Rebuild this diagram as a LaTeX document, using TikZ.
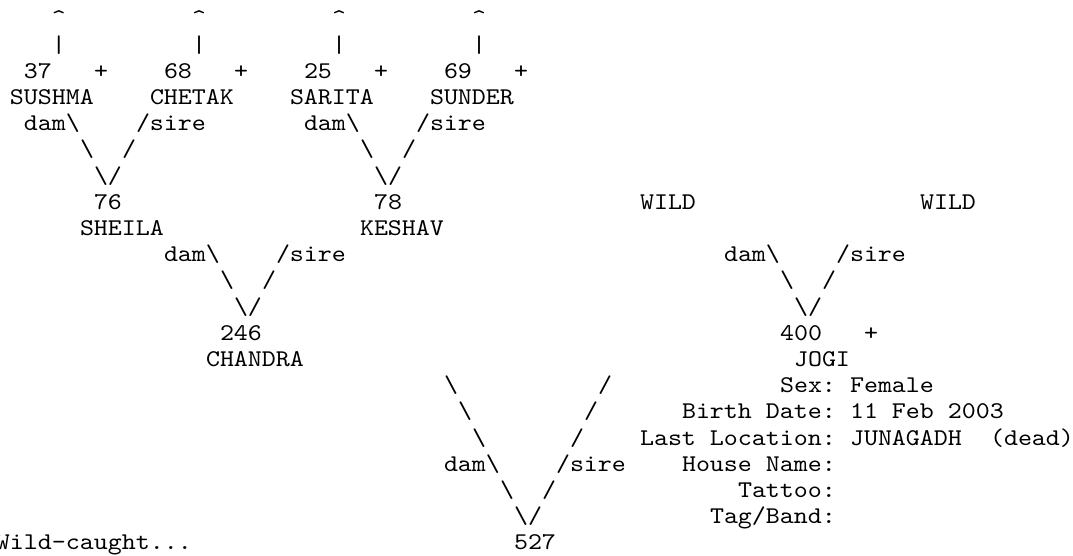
\documentclass[tikz,border=0pt]{standalone}
\usepackage{fontspec}
\newfontfamily\pedtt[FakeStretch=1.111]{lmmono10-regular.otf}

\newcommand{\bs}{\textbackslash}
\newcommand{\caret}{\textasciicircum}

\begin{document}
\begin{tikzpicture}[x=7pt, y=-13.1pt,
	txt/.style={anchor=base west, inner sep=0pt, outer sep=0pt,
		font=\pedtt\fontsize{12pt}{14pt}\selectfont}]
	
	\useasboundingbox (0pt,0pt) rectangle (536.5pt,-278pt);
	
	\begin{scope}[shift={(-2pt,-12.95pt)}]
		
		% top row of ancestors
		\foreach \c/\id/\nm [count=\i] in {1/37/SUSHMA, 11/68/CHETAK, 21/25/SARITA, 31/69/SUNDER}{
			\node[txt] (up\i) at (\c+3,0) {\caret};
			\node[txt] (bar\i) at (\c+3,1) {|};
			\node[txt] (id\i) at (\c+1,2) {\id};
			\node[txt] (plus\i) at (\c+6,2) {+};
			\node[txt] (nm\i) at (\c,3) {\nm};
		}
		
		% dam/sire joins
		\foreach \d/\r/\v in {2/4/a, 22/4/b, 12/9/c, 52/9/d, 32/17/e}{
			\node[txt] (dam\v) at (\d,\r) {dam\bs};
			\node[txt] (sire\v) at (\d+8,\r) {/sire};
			\node[txt] (dl\v) at (\d+4,\r+1) {\bs};
			\node[txt] (sl\v) at (\d+7,\r+1) {/};
			\node[txt] (vee\v) at (\d+5,\r+2) {\bs/};
		}
		
		% parents
		\node[txt] (sheilaid) at (7,7) {76};
		\node[txt] (keshavid) at (27,7) {78};
		\node[txt] (wilddam) at (46,7) {WILD};
		\node[txt] (wildsire) at (66,7) {WILD};
		\node[txt] (sheila) at (6,8) {SHEILA};
		\node[txt] (keshav) at (26,8) {KESHAV};
		
		\node[txt] (chandraid) at (16,12) {246};
		\node[txt] (jogiid) at (56,12) {400};
		\node[txt] (jogiplus) at (62,12) {+};
		\node[txt] (chandra) at (15,13) {CHANDRA};
		\node[txt] (jogi) at (57,13) {JOGI};
		
		% long legs down to 527
		\foreach \k in {0,1,2}{
			\node[txt] (dleg\k) at (32+\k,14+\k) {\bs};
			\node[txt] (sleg\k) at (43-\k,14+\k) {/};
		}
		
		% details
		\node[txt] (sexlbl) at (56,14) {Sex:};
		\node[txt] (sex) at (61,14) {Female};
		\node[txt] (birthlbl) at (49,15) {Birth Date:};
		\node[txt] (birth) at (61,15) {11 Feb 2003};
		\node[txt] (loclbl) at (46,16) {Last Location:};
		\node[txt] (loc) at (61,16) {JUNAGADH};
		\node[txt] (dead) at (71,16) {(dead)};
		\node[txt] (houselbl) at (49,17) {House Name:};
		\node[txt] (tattoolbl) at (53,18) {Tattoo:};
		\node[txt] (taglbl) at (51,19) {Tag/Band:};
		
		\node[txt] (wild) at (0,20) {Wild-caught...};
		\node[txt] (focal) at (37,20) {527};
		
	\end{scope}
	
\end{tikzpicture}
\end{document}
